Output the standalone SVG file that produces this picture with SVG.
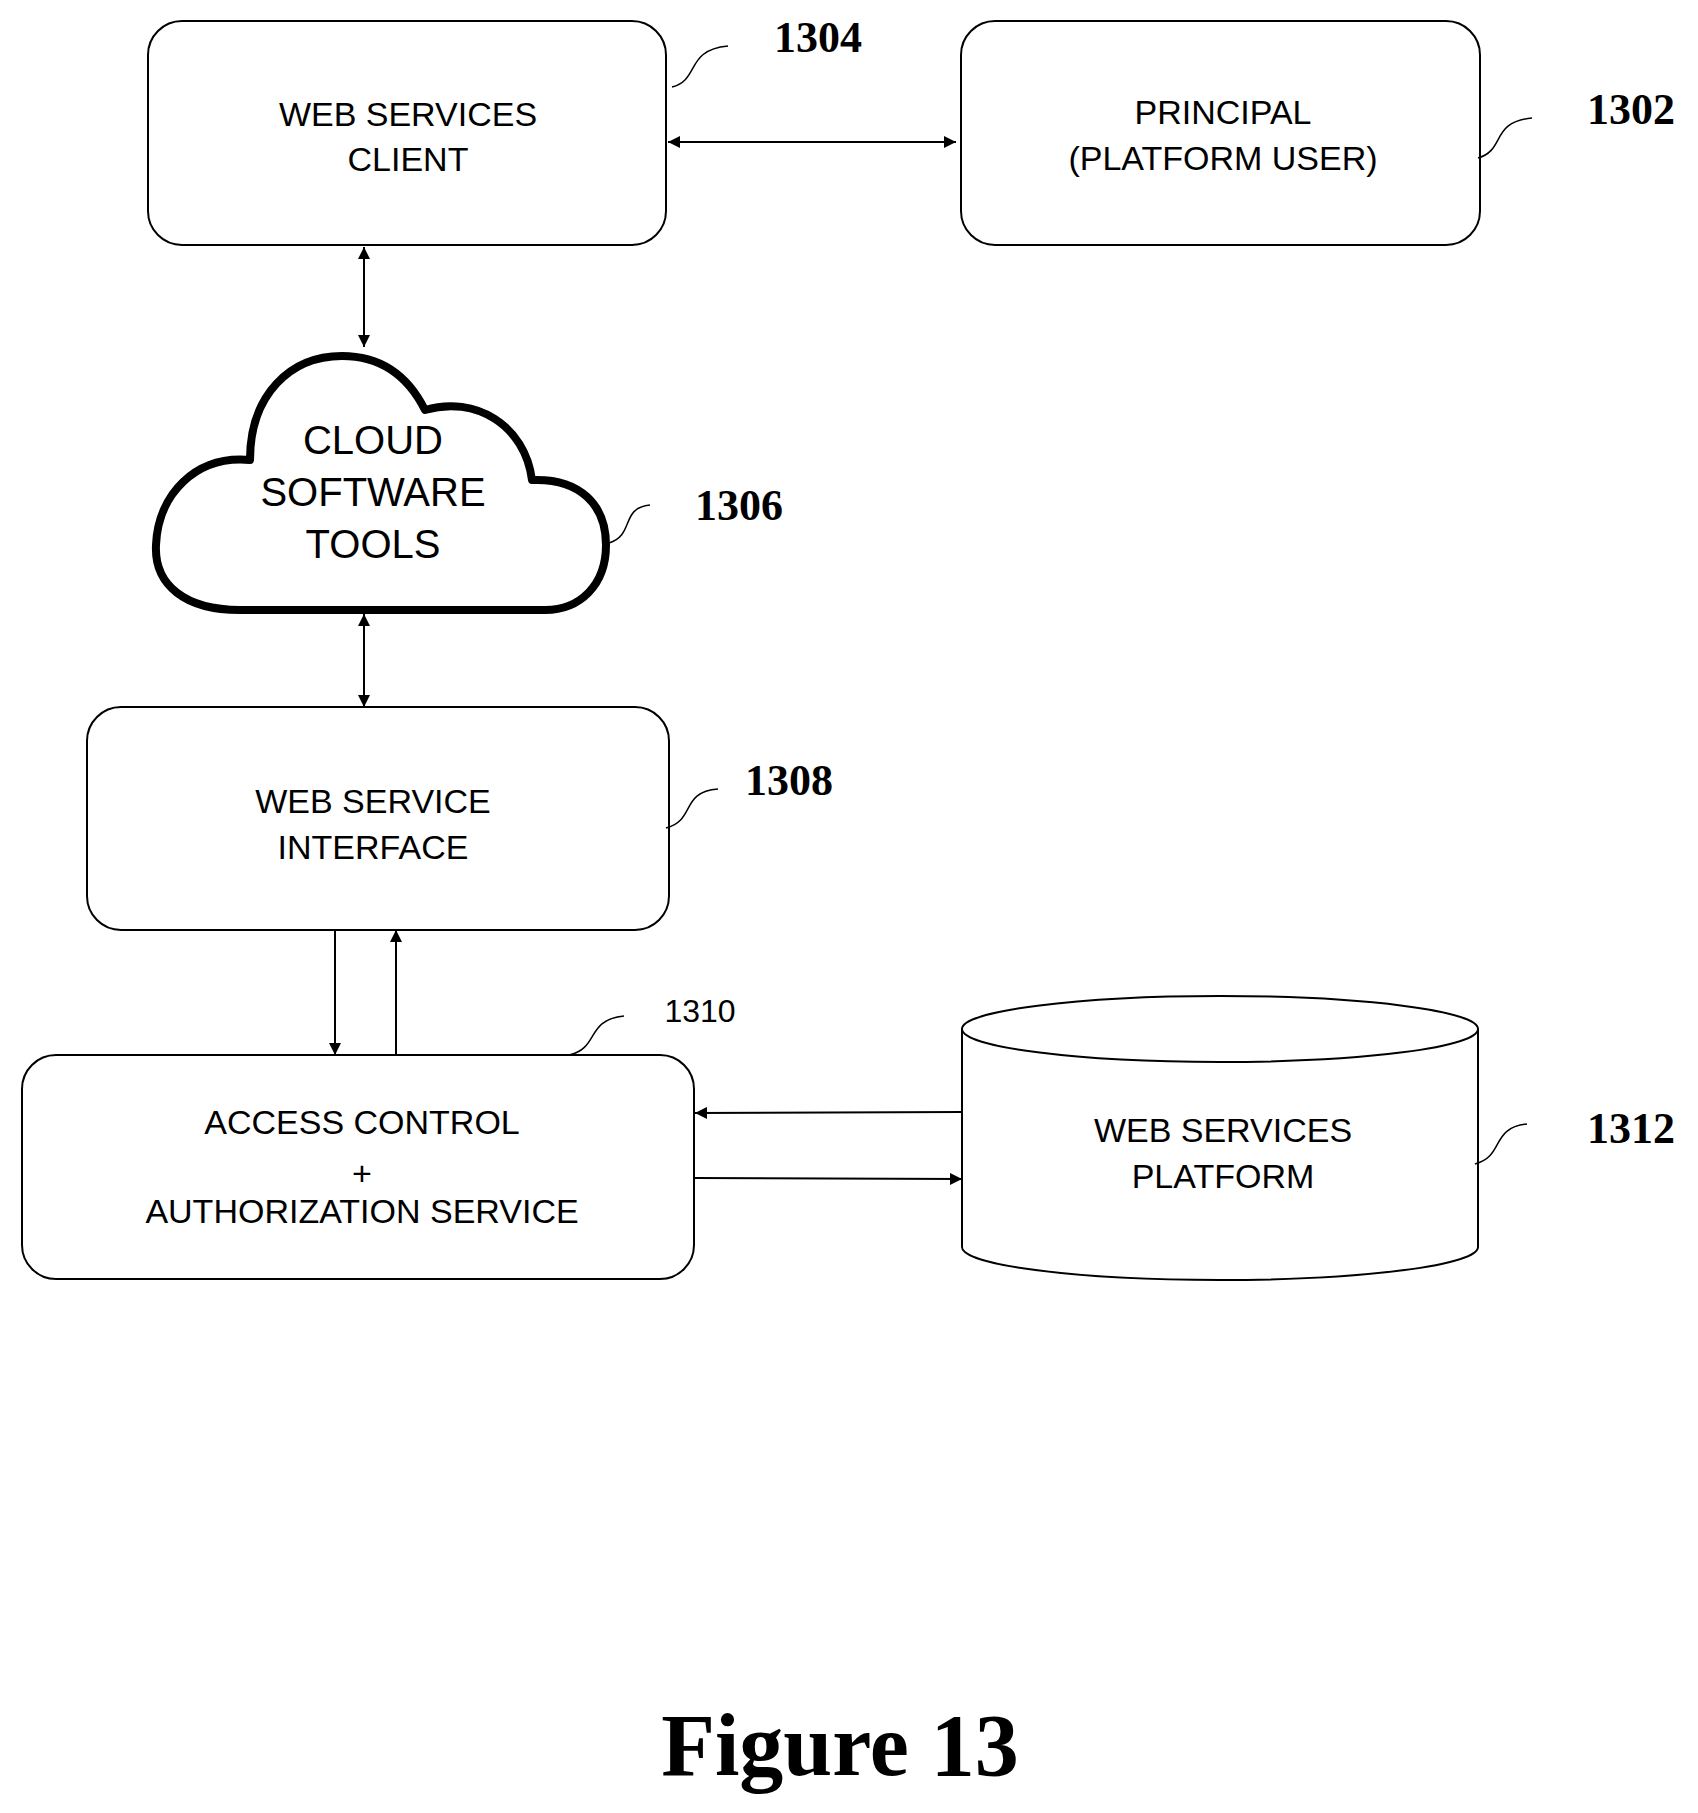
<svg xmlns="http://www.w3.org/2000/svg" width="1698" height="1813" viewBox="0 0 1698 1813">
<style>
.box{fill:#fff;stroke:#000;stroke-width:2}
.t{font-family:"Liberation Sans",Arial,sans-serif;font-size:34px;text-anchor:middle;fill:#000}
.ct{font-family:"Liberation Sans",Arial,sans-serif;font-size:40px;text-anchor:middle;fill:#000}
.ref{font-family:"Liberation Serif","Times New Roman",serif;font-size:44px;font-weight:bold;text-anchor:middle;fill:#000}
.lead{fill:none;stroke:#000;stroke-width:1.5}
.con{fill:none;stroke:#000;stroke-width:2}
</style>
<defs>
<marker id="ah" viewBox="0 0 10 10" refX="10" refY="5" markerWidth="12" markerHeight="12" markerUnits="userSpaceOnUse" orient="auto-start-reverse"><path d="M0,0 L10,5 L0,10 Z" fill="#000"/></marker>
</defs>
<rect width="1698" height="1813" fill="#fff"/>
<g id="connectors">
<line class="con" x1="668" y1="142" x2="956" y2="142" marker-start="url(#ah)" marker-end="url(#ah)"/>
<line class="con" x1="364" y1="247" x2="364" y2="347" marker-start="url(#ah)" marker-end="url(#ah)"/>
<line class="con" x1="364" y1="614" x2="364" y2="707" marker-start="url(#ah)" marker-end="url(#ah)"/>
<line class="con" x1="335" y1="930" x2="335" y2="1055" marker-end="url(#ah)"/>
<line class="con" x1="396" y1="1055" x2="396" y2="930" marker-end="url(#ah)"/>
<line class="con" x1="962" y1="1112" x2="695" y2="1113" marker-end="url(#ah)"/>
<line class="con" x1="695" y1="1178" x2="962" y2="1179" marker-end="url(#ah)"/>
</g>
<g id="n1304">
<rect class="box" x="148" y="21" width="518" height="224" rx="34"/>
<text class="t" x="408" y="126">WEB SERVICES</text>
<text class="t" x="408" y="171">CLIENT</text>
<path class="lead" d="M672,87 C700,80 685,50 728,46"/>
<text class="ref" x="818" y="52">1304</text>
</g>
<g id="n1302">
<rect class="box" x="961" y="21" width="519" height="224" rx="34"/>
<text class="t" x="1223" y="124">PRINCIPAL</text>
<text class="t" x="1223" y="170">(PLATFORM USER)</text>
<path class="lead" d="M1478,158 C1506,150 1490,122 1532,118"/>
<text class="ref" x="1631" y="124">1302</text>
</g>
<g id="n1306">
<path d="M240,610 C185,610 154,585 156,545 C158,495 195,455 250,460 C250,395 290,356 342,356 C385,356 410,380 425,410 C475,395 525,425 532,480 C580,478 606,505 606,545 C606,585 580,610 545,610 Z" fill="#fff" stroke="#000" stroke-width="8" stroke-linejoin="round"/>
<text class="ct" x="373" y="454">CLOUD</text>
<text class="ct" x="373" y="506">SOFTWARE</text>
<text class="ct" x="373" y="558">TOOLS</text>
<path class="lead" d="M609,543 C635,535 620,508 650,505"/>
<text class="ref" x="739" y="520">1306</text>
</g>
<g id="n1308">
<rect class="box" x="87" y="707" width="582" height="223" rx="34"/>
<text class="t" x="373" y="813">WEB SERVICE</text>
<text class="t" x="373" y="859">INTERFACE</text>
<path class="lead" d="M666,828 C696,820 680,792 718,789"/>
<text class="ref" x="789" y="795">1308</text>
</g>
<g id="n1310">
<rect class="box" x="22" y="1055" width="672" height="224" rx="34"/>
<text class="t" x="362" y="1134">ACCESS CONTROL</text>
<text class="t" x="362" y="1185">+</text>
<text class="t" x="362" y="1223">AUTHORIZATION SERVICE</text>
<path class="lead" d="M569,1055 C600,1048 585,1020 624,1016"/>
<text x="700" y="1022" font-family="Liberation Sans,Arial,sans-serif" font-size="32" text-anchor="middle">1310</text>
</g>
<g id="n1312">
<path class="box" d="M962,1029 L962,1247 A258,33 0 0 0 1478,1247 L1478,1029 A258,33 0 0 0 962,1029 A258,33 0 0 0 1478,1029"/>
<text class="t" x="1223" y="1142">WEB SERVICES</text>
<text class="t" x="1223" y="1188">PLATFORM</text>
<path class="lead" d="M1475,1164 C1505,1156 1490,1128 1527,1124"/>
<text class="ref" x="1631" y="1143">1312</text>
</g>
<text x="840" y="1775" font-family="Liberation Serif,Times New Roman,serif" font-size="88" font-weight="bold" text-anchor="middle">Figure 13</text>
</svg>
